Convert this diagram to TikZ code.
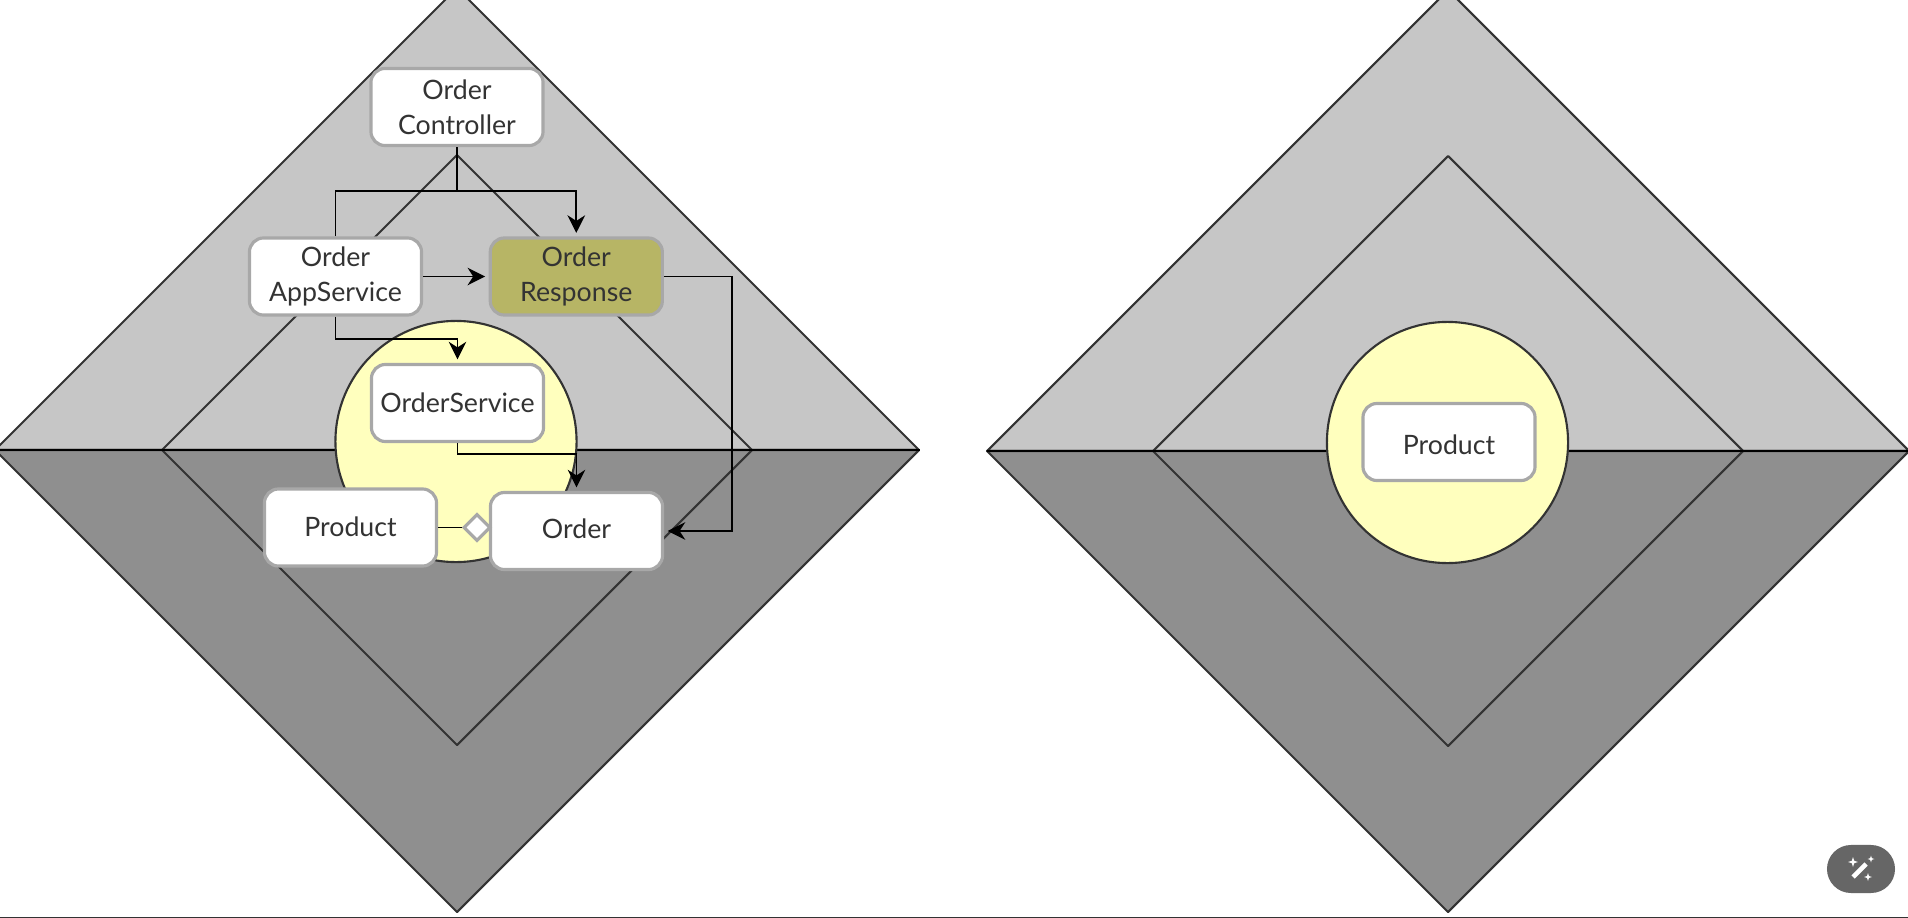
\documentclass[tikz,border=0pt]{standalone}
\usepackage{fontspec}
\setmainfont{Lato}
\usepackage{tikz}
\usetikzlibrary{shapes.geometric,arrows.meta,positioning}

\definecolor{upperzone}{HTML}{C6C6C6}
\definecolor{lowerzone}{HTML}{8F8F8F}
\definecolor{kernel}{HTML}{FFFFBE}
\definecolor{olive}{HTML}{B7B565}
\definecolor{boxline}{HTML}{A8A8A8}
\definecolor{ink}{HTML}{333333}
\definecolor{badge}{HTML}{666666}

\begin{document}
\begin{tikzpicture}[
    x=0.01cm, y=-0.01cm,
    node distance=0.655cm,
    zone/.style={draw=ink, line width=0.6pt, line join=round},
    layer/.style={draw=black, line width=0.7pt},
    kernelcircle/.style={circle, draw=ink, fill=kernel, line width=0.6pt, minimum size=2.41cm, inner sep=0pt},
    block/.style={draw=boxline, fill=white, line width=0.9pt, rounded corners=4pt, minimum width=1.72cm, minimum height=0.77cm, inner sep=0pt, align=center, text=ink, font=\fontsize{7.6}{10}\selectfont},
    aggregation/.style={diamond, draw=boxline, fill=white, line width=0.9pt, minimum size=0.27cm, inner sep=0pt},
    arrow/.style={draw=black, line width=0.55pt, -{Stealth[length=5pt,width=5pt,inset=1.6pt]}, shorten >=1pt},
    line/.style={draw=black, line width=0.55pt},
    sparkle/.style={star, star points=4, star point ratio=3, fill=white, inner sep=0pt, minimum size=#1}
]
    \clip (0,0) rectangle (1908,918);
    \fill[white] (0,0) rectangle (1908,918);

    \foreach \cx/\cy/\outer in {457/450/462,1448/451/461} {
        \path[zone, fill=upperzone] (\cx-\outer,\cy) -- (\cx,\cy-\outer) -- (\cx+\outer,\cy) -- cycle;
        \path[zone, fill=lowerzone] (\cx-\outer,\cy) -- (\cx,\cy+\outer) -- (\cx+\outer,\cy) -- cycle;
        \draw[zone] (\cx-295,\cy) -- (\cx,\cy-295) -- (\cx+295,\cy) -- (\cx,\cy+295) -- cycle;
    }
    \draw[layer] (0,450) -- (920,450);
    \draw[layer] (987,451) -- (1908,451);

    \node (kernelA) [kernelcircle] at (456,441.5) {};
    \node (kernelB) [kernelcircle] at (1447.5,442.5) {};

    \node (controller) [block] at (457,107) {Order\\Controller};
    \node (appservice) [block] at (335.5,276.5) {Order\\AppService};
    \node (response) [block, fill=olive, right=of appservice] {Order\\Response};
    \node (orderservice) [block] at (457.5,403) {OrderService};
    \node (product) [block, text depth=0.4pt] at (350.5,527.5) {Product};
    \node (order) [block, text depth=1.2pt] at (576.5,531) {Order};
    \node (joint) [aggregation] at (477,527.5) {};
    \node (productB) [block, text height=7.4pt] at (1449,442) {Product};

    \coordinate (fork) at (457,191);
    \draw [line] (controller) -- (fork);
    \draw [arrow] (appservice.north) |- (fork) -| (response.north);
    \draw [arrow] (appservice) -- (response);
    \draw [arrow] (appservice.south) -- ++(0,22) -| (orderservice.north);
    \draw [arrow] (orderservice.south) -- ++(0,11) -| (order.north);
    \draw [arrow] (response.east) -- ++(68,0) |- (order.east);
    \draw [line] (product) -- (joint);

    \node (button) [fill=badge, rounded corners=0.24cm, minimum width=0.68cm, minimum height=0.48cm, inner sep=0pt] at (1861,869) {};
    \draw[white, line width=1.3pt] (1853,877) -- (1866,864);
    \node (sparkA) [sparkle=0.1cm] at (1853,862) {};
    \node (sparkB) [sparkle=0.07cm] at (1871,859) {};
    \node (sparkC) [sparkle=0.08cm] at (1868,877) {};
    \fill[ink] (0,916.5) rectangle (1908,918);
\end{tikzpicture}
\end{document}
